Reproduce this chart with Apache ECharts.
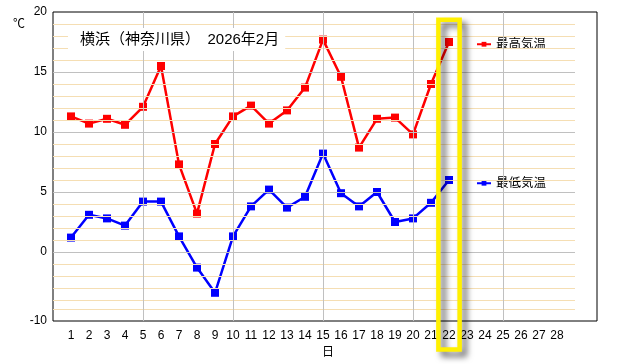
<!DOCTYPE html>
<html><head><meta charset="utf-8">
<script src="https://cdn.jsdelivr.net/npm/echarts@6/dist/echarts.min.js"></script>
<style>html,body{margin:0;padding:0;background:#fff}#c{width:622px;height:364px}</style>
</head><body><div id="c"></div>
<script>
const days = [1,2,3,4,5,6,7,8,9,10,11,12,13,14,15,16,17,18,19,20,21,22];
const maxTemp = [11.3,10.7,11.1,10.6,12.1,15.5,7.3,3.2,9.0,11.3,12.2,10.7,11.8,13.7,17.7,14.6,8.7,11.1,11.2,9.8,14.0,17.5];
const minTemp = [1.2,3.1,2.8,2.2,4.2,4.2,1.3,-1.3,-3.4,1.3,3.8,5.2,3.7,4.6,8.2,4.9,3.8,5.0,2.5,2.8,4.1,6.0];
const xTickLabels = [1,2,3,4,5,6,7,8,9,10,11,12,13,14,15,16,17,18,19,20,21,22,23,24,25,26,27,28];
const yTickValues = [-5.75,0,5,10,15,20];
const yTickLabels = ['-10','0','5','10','15','20'];
const minorGrid = [-4.8,-4,-3,-2,-1,1,2,3,4,6,7,8,9,11,12,13,14,16,17,18,19];
const majorGridY = [0,5,10,15];
const majorGridX = [5,10,15,20,25];
const highlightDay = 22;
const titleText = '横浜（神奈川県）　2026年2月';
const seriesNames = ['最高気温','最低気温'];

const FONT = '"Liberation Sans","Noto Sans CJK JP",sans-serif';
const chart = echarts.init(document.getElementById('c'), null, {renderer:'canvas'});
const X_MAX = 544/18, Y_MIN = -5.75, Y_MAX = 20, GRID_END = 29;

const gridLines = [];
minorGrid.forEach(v => gridLines.push([{coord:[0,v],lineStyle:{color:'#F5DEB3',width:1,type:'solid'}},{coord:[GRID_END,v]}]));
majorGridY.forEach(v => gridLines.push([{coord:[0,v],lineStyle:{color:'#C0C0C0',width:1,type:'solid'}},{coord:[GRID_END,v]}]));
majorGridX.forEach(v => gridLines.push([{coord:[v,Y_MIN],lineStyle:{color:'#C0C0C0',width:1,type:'solid'}},{coord:[v,Y_MAX]}]));

const legendBase = {
  orient:'vertical', backgroundColor:'#fff', padding:[5,8,5,5],
  itemWidth:14, itemHeight:6, textStyle:{fontSize:12.5,color:'#000',fontFamily:FONT},
  selectedMode:false
};

chart.setOption({
  animation:false,
  backgroundColor:'#fff',
  title:{text:titleText, left:68, top:28, backgroundColor:'#fff', padding:[4,6,4,12],
    textStyle:{fontSize:15,fontWeight:'normal',color:'#000',fontFamily:FONT}},
  legend:[
    Object.assign({}, legendBase, {data:[seriesNames[0]], left:471, top:33}),
    Object.assign({}, legendBase, {data:[seriesNames[1]], left:471, top:172})
  ],
  grid:{left:53, right:25, top:12, bottom:43, show:true, borderColor:'#000', borderWidth:1, backgroundColor:'#fff'},
  xAxis:{type:'value', min:0, max:X_MAX, splitLine:{show:false}, axisTick:{show:false},
    axisLine:{show:false},
    axisLabel:{customValues:xTickLabels, color:'#000', fontSize:12, fontFamily:FONT, margin:9},
    name:'日', nameLocation:'middle', nameGap:25,
    nameTextStyle:{color:'#000', fontSize:12, fontFamily:FONT, padding:[0,0,0,6]}},
  yAxis:{type:'value', min:Y_MIN, max:Y_MAX, splitLine:{show:false}, axisTick:{show:false},
    axisLine:{show:false},
    axisLabel:{customValues:yTickValues, color:'#000', fontSize:12, fontFamily:FONT, margin:6,
      formatter:(v)=>{const i=yTickValues.indexOf(v);return i>=0?yTickLabels[i]:'';}}},
  series:[
    {type:'line', name:'grid', data:[], z:1, silent:true,
     markLine:{silent:true, symbol:'none', label:{show:false}, animation:false, data:gridLines}},
    {type:'line', name:seriesNames[0], z:3, data:days.map((d,i)=>[d,maxTemp[i]]),
     symbol:'rect', symbolSize:8, color:'#FF0000', lineStyle:{width:2.5,color:'#FF0000'}, itemStyle:{color:'#FF0000'}},
    {type:'line', name:seriesNames[1], z:3, data:days.map((d,i)=>[d,minTemp[i]]),
     symbol:'rect', symbolSize:8, color:'#0000FF', lineStyle:{width:2.5,color:'#0000FF'}, itemStyle:{color:'#0000FF'}}
  ]
});

const xl = chart.convertToPixel({xAxisIndex:0}, highlightDay - 0.59);
const xr = chart.convertToPixel({xAxisIndex:0}, highlightDay + 0.59);
const yt = chart.convertToPixel({yAxisIndex:0}, Y_MAX - 0.65);
const yb = chart.convertToPixel({yAxisIndex:0}, Y_MIN) + 28.5;
chart.setOption({graphic:[
  {type:'text', left:13, top:19, style:{text:'℃', fontSize:12, fill:'#000', fontFamily:FONT}},
  {type:'rect', z:100, shape:{x:xl, y:yt, width:xr-xl, height:yb-yt},
   style:{fill:null, stroke:'#FFF000', lineWidth:4.5, shadowColor:'rgba(0,0,0,0.6)', shadowBlur:6, shadowOffsetX:5, shadowOffsetY:5}}
]});
</script></body></html>
